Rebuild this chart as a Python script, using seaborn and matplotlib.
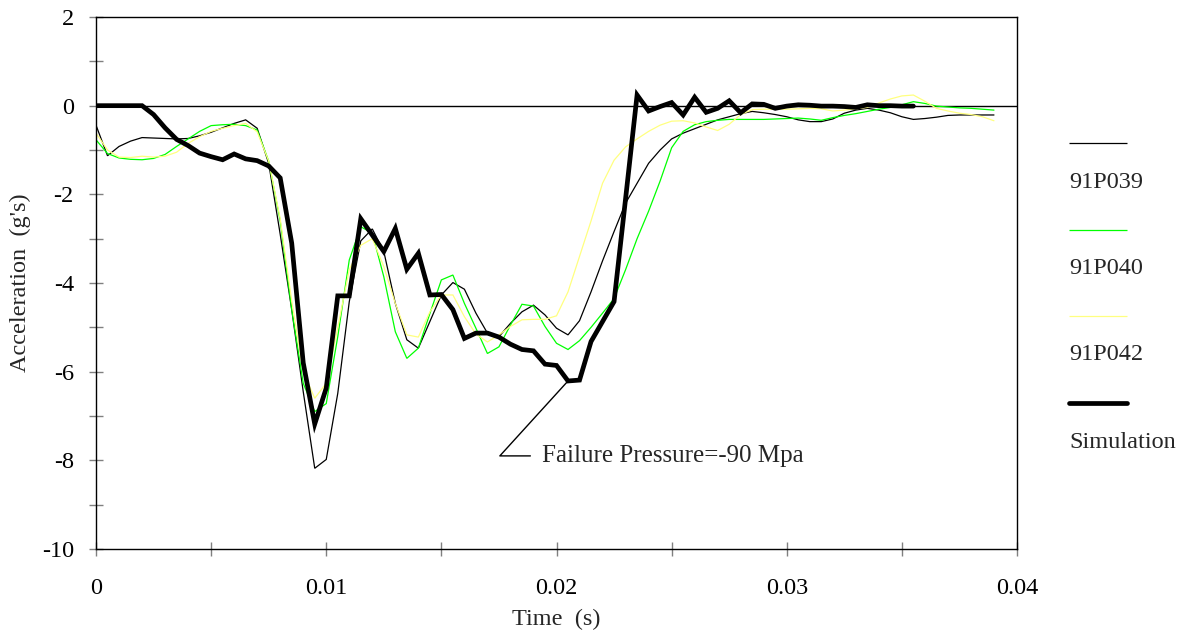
import numpy as np
import pandas as pd
import matplotlib
matplotlib.use("Agg")
import matplotlib.pyplot as plt
import seaborn as sns
from matplotlib.lines import Line2D

# sample times (s), one reading every 0.5 ms
time_s = np.round(np.arange(0, 79) * 0.0005, 4)

acc_91P039 = [-0.44, -1.13, -0.92, -0.80, -0.72, -0.73, -0.74, -0.75, -0.74, -0.68,
              -0.60, -0.50, -0.40, -0.32, -0.51, -1.30, -2.90, -4.60, -6.45, -8.18,
              -7.98, -6.49, -4.42, -3.05, -2.78, -3.29, -4.46, -5.28, -5.47, -4.87,
              -4.27, -3.99, -4.14, -4.68, -5.13, -5.21, -4.91, -4.65, -4.50, -4.72,
              -5.02, -5.17, -4.85, -4.20, -3.50, -2.84, -2.20, -1.75, -1.30, -1.00,
              -0.75, -0.62, -0.52, -0.42, -0.32, -0.25, -0.18, -0.13, -0.16, -0.20,
              -0.25, -0.32, -0.36, -0.36, -0.30, -0.17, -0.10, -0.06, -0.10, -0.16,
              -0.25, -0.31, -0.29, -0.26, -0.22, -0.21, -0.21, -0.21, -0.21]

acc_91P040 = [-0.77, -1.08, -1.18, -1.21, -1.22, -1.19, -1.10, -0.92, -0.75, -0.58,
              -0.45, -0.43, -0.42, -0.45, -0.55, -1.25, -2.60, -4.60, -6.26, -6.90,
              -6.72, -5.21, -3.48, -2.73, -2.88, -3.86, -5.10, -5.70, -5.47, -4.69,
              -3.93, -3.82, -4.46, -5.02, -5.59, -5.44, -4.95, -4.48, -4.52, -4.98,
              -5.36, -5.50, -5.30, -5.00, -4.68, -4.35, -3.70, -3.00, -2.38, -1.70,
              -0.95, -0.58, -0.43, -0.36, -0.33, -0.31, -0.31, -0.31, -0.31, -0.30,
              -0.29, -0.28, -0.30, -0.33, -0.27, -0.22, -0.18, -0.13, -0.08, -0.04,
              0.02, 0.09, 0.05, -0.01, -0.03, -0.05, -0.06, -0.08, -0.10]

acc_91P042 = [-0.62, -1.00, -1.16, -1.17, -1.14, -1.16, -1.14, -1.05, -0.85, -0.70,
              -0.58, -0.51, -0.45, -0.40, -0.59, -1.25, -2.55, -4.40, -6.00, -6.60,
              -6.26, -5.00, -3.70, -3.15, -3.00, -3.63, -4.46, -5.17, -5.22, -4.65,
              -4.27, -4.27, -4.76, -5.15, -5.33, -5.17, -4.98, -4.83, -4.82, -4.82,
              -4.74, -4.20, -3.40, -2.60, -1.75, -1.23, -0.93, -0.75, -0.58, -0.44,
              -0.35, -0.34, -0.39, -0.48, -0.56, -0.42, -0.20, -0.09, -0.08, -0.08,
              -0.08, -0.07, -0.06, -0.07, -0.12, -0.10, -0.07, -0.04, 0.06, 0.15,
              0.22, 0.24, 0.10, -0.06, -0.12, -0.17, -0.20, -0.25, -0.34]

acc_sim = [0.00, 0.00, 0.00, 0.00, 0.00, -0.20, -0.50, -0.76, -0.90, -1.07,
           -1.15, -1.22, -1.09, -1.20, -1.24, -1.36, -1.63, -3.10, -5.80, -7.18,
           -6.37, -4.29, -4.29, -2.55, -2.92, -3.29, -2.77, -3.69, -3.33, -4.27,
           -4.26, -4.60, -5.25, -5.13, -5.13, -5.22, -5.38, -5.50, -5.53, -5.83,
           -5.86, -6.21, -6.19, -5.32, -4.87, -4.42, -2.10, 0.24, -0.12, -0.02,
           0.07, -0.21, 0.19, -0.15, -0.06, 0.11, -0.16, 0.04, 0.03, -0.06,
           -0.01, 0.02, 0.01, -0.01, -0.01, -0.02, -0.04, 0.02, 0.00, 0.00,
           -0.01, -0.01]

series_names = ["91P039", "91P040", "91P042", "Simulation"]
series_colors = ["black", "#00ff00", "#ffff80", "black"]
series_widths = [0.9, 0.9, 0.9, 3.4]

sns.set_theme(style="white")
plt.rcParams["font.family"] = ["Liberation Serif", "DejaVu Serif"]
plt.rcParams["font.size"] = 17.5
plt.rcParams["axes.unicode_minus"] = False

fig = plt.figure(figsize=(11.86, 6.34), dpi=100)
ax = fig.add_axes([96 / 1186, 1 - 549 / 634, 921 / 1186, 532 / 634])

ax.axhline(0, color="black", lw=1.0, zorder=1)

all_series = [acc_91P039, acc_91P040, acc_91P042, acc_sim]
for name, vals, col, lw in zip(series_names, all_series, series_colors, series_widths):
    df = pd.DataFrame({"t": time_s[:len(vals)], "acc": vals})
    sns.lineplot(data=df, x="t", y="acc", color=col, lw=lw, ax=ax,
                 solid_joinstyle="miter", zorder=3 if name == "Simulation" else 2)

ax.set_xlim(0, 0.04)
ax.set_ylim(-10, 2)
ax.set_xticks([0, 0.01, 0.02, 0.03, 0.04])
ax.set_xticklabels(["0", "0.01", "0.02", "0.03", "0.04"])
ax.set_xticks([0.005, 0.015, 0.025, 0.035], minor=True)
ax.set_yticks(range(-10, 3, 2))
ax.set_yticks(range(-9, 2, 2), minor=True)
ax.tick_params(which="both", direction="inout", length=10, width=1, color="#808080",
               labelsize=17.5, labelcolor="black", bottom=True, left=True)
ax.tick_params(axis="x", which="major", pad=16)
ax.tick_params(axis="y", which="major", pad=11)
ax.set_xlabel("Time  (s)", fontsize=17.5, labelpad=7)
ax.set_ylabel("Acceleration  (g's)", fontsize=17.5, labelpad=8)
for sp in ax.spines.values():
    sp.set_color("black")
    sp.set_linewidth(1.0)

ax.annotate("Failure Pressure=-90 Mpa", xy=(0.0205, -6.21), xytext=(0.01937, -7.9),
            ha="left", va="center", fontsize=18,
            arrowprops=dict(arrowstyle="-", color="black", lw=1.0, shrinkA=6, shrinkB=0,
                            connectionstyle="angle,angleA=0,angleB=47.7,rad=0"))

# legend: handle line above its label
leg_y = [143, 230, 316, 403]
for name, col, lw, yy in zip(series_names, series_colors, series_widths, leg_y):
    fy = 1 - yy / 634
    fig.add_artist(Line2D([1069 / 1186, 1127 / 1186], [fy, fy], color=col, lw=lw,
                          solid_capstyle="round" if lw > 2 else "butt"))
    fig.text(1069 / 1186, 1 - (yy + 39) / 634, name, ha="left", va="center", fontsize=17.5)

fig.savefig("out.png", dpi=100)
